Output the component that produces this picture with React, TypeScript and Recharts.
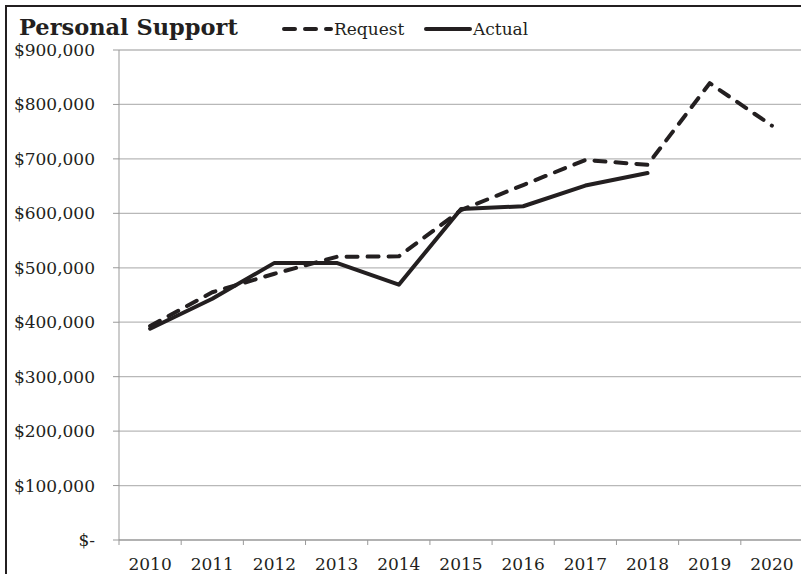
import React from 'react';
import { LineChart, Line, XAxis, YAxis, CartesianGrid } from 'recharts';

const years = ['2010', '2011', '2012', '2013', '2014', '2015', '2016', '2017', '2018', '2019', '2020'];
const requestValues = [393000, 455000, 489000, 520000, 521000, 606000, 652000, 698000, 689000, 839000, 761000];
const actualValues = [388000, 443000, 509000, 509000, 469000, 608000, 613000, 651000, 674000, null, null];
const yTicks = [0, 100000, 200000, 300000, 400000, 500000, 600000, 700000, 800000, 900000];

const FONT = '"DejaVu Serif", serif';
const INK = '#231f20';

const data = years.map((year, i) => ({
  x: i + 0.5,
  year,
  request: requestValues[i],
  actual: actualValues[i],
}));

// category boundaries (integers) get a tick mark, centres (x.5) get the year label
const xTicks = years.flatMap((_, i) => [i, i + 0.5]).concat(years.length);

const legendItems = [
  { name: 'Request', dash: '11 10', lineFrom: 284, lineTo: 331, textX: 334 },
  { name: 'Actual', dash: undefined, lineFrom: 426, lineTo: 470, textX: 473 },
];

const formatMoney = (v: number) => (v === 0 ? '$-' : '$' + v.toLocaleString('en-US'));

const XTick = (props: any) => {
  const { x, y, payload } = props;
  const v = payload.value as number;
  if (Number.isInteger(v)) {
    return <line x1={x} y1={y} x2={x} y2={y + 5} stroke="#999" strokeWidth={1} />;
  }
  return (
    <text x={x} y={y + 30} textAnchor="middle" fill={INK} fontSize={17} fontFamily={FONT}>
      {years[Math.floor(v)]}
    </text>
  );
};

export default function App() {
  return (
    <div style={{ position: 'absolute', left: 0, top: 0, width: 801, height: 574, overflow: 'hidden', background: '#fff' }}>
      <div
        style={{
          position: 'absolute',
          left: 5,
          top: 5,
          width: 820,
          height: 567,
          borderLeft: '2px solid #231f20',
          borderTop: '2px solid #231f20',
          borderBottom: '1px solid #cfcfcf',
        }}
      />
      <div
        style={{
          position: 'absolute',
          left: 19,
          top: 16,
          fontFamily: FONT,
          fontWeight: 'bold',
          fontSize: 22.5,
          lineHeight: '22px',
          color: INK,
          whiteSpace: 'nowrap',
        }}
      >
        Personal Support
      </div>
      <svg style={{ position: 'absolute', left: 0, top: 0 }} width={801} height={45}>
        {legendItems.map((item) => (
          <g key={item.name}>
            <line
              x1={item.lineFrom}
              y1={29}
              x2={item.lineTo}
              y2={29}
              stroke={INK}
              strokeWidth={4}
              strokeLinecap="round"
              strokeDasharray={item.dash}
            />
            <text x={item.textX} y={35} fill={INK} fontSize={17} fontFamily={FONT}>
              {item.name}
            </text>
          </g>
        ))}
      </svg>
      <div style={{ position: 'absolute', left: 0, top: 0 }}>
        <LineChart width={803} height={574} data={data} margin={{ top: 50, right: 0, left: 0, bottom: 0 }}>
          <CartesianGrid vertical={false} stroke="#b8b8b8" strokeWidth={1.3} />
          <XAxis
            dataKey="x"
            type="number"
            domain={[0, years.length]}
            ticks={xTicks}
            interval={0}
            height={34}
            tickSize={0}
            tickMargin={0}
            tickLine={false}
            tick={<XTick />}
            axisLine={{ stroke: '#999' }}
          />
          <YAxis
            type="number"
            domain={[0, 900000]}
            ticks={yTicks}
            interval={0}
            width={119}
            tickSize={6}
            tickMargin={18}
            tickFormatter={formatMoney}
            tick={{ fill: INK, fontSize: 17, fontFamily: FONT }}
            tickLine={{ stroke: '#999' }}
            axisLine={{ stroke: '#999' }}
          />
          <Line
            type="linear"
            dataKey="request"
            stroke={INK}
            strokeWidth={4}
            strokeDasharray="11 10"
            strokeLinecap="round"
            strokeLinejoin="round"
            dot={false}
            activeDot={false}
            isAnimationActive={false}
          />
          <Line
            type="linear"
            dataKey="actual"
            stroke={INK}
            strokeWidth={4}
            strokeLinecap="round"
            strokeLinejoin="round"
            dot={false}
            activeDot={false}
            isAnimationActive={false}
          />
        </LineChart>
      </div>
    </div>
  );
}
